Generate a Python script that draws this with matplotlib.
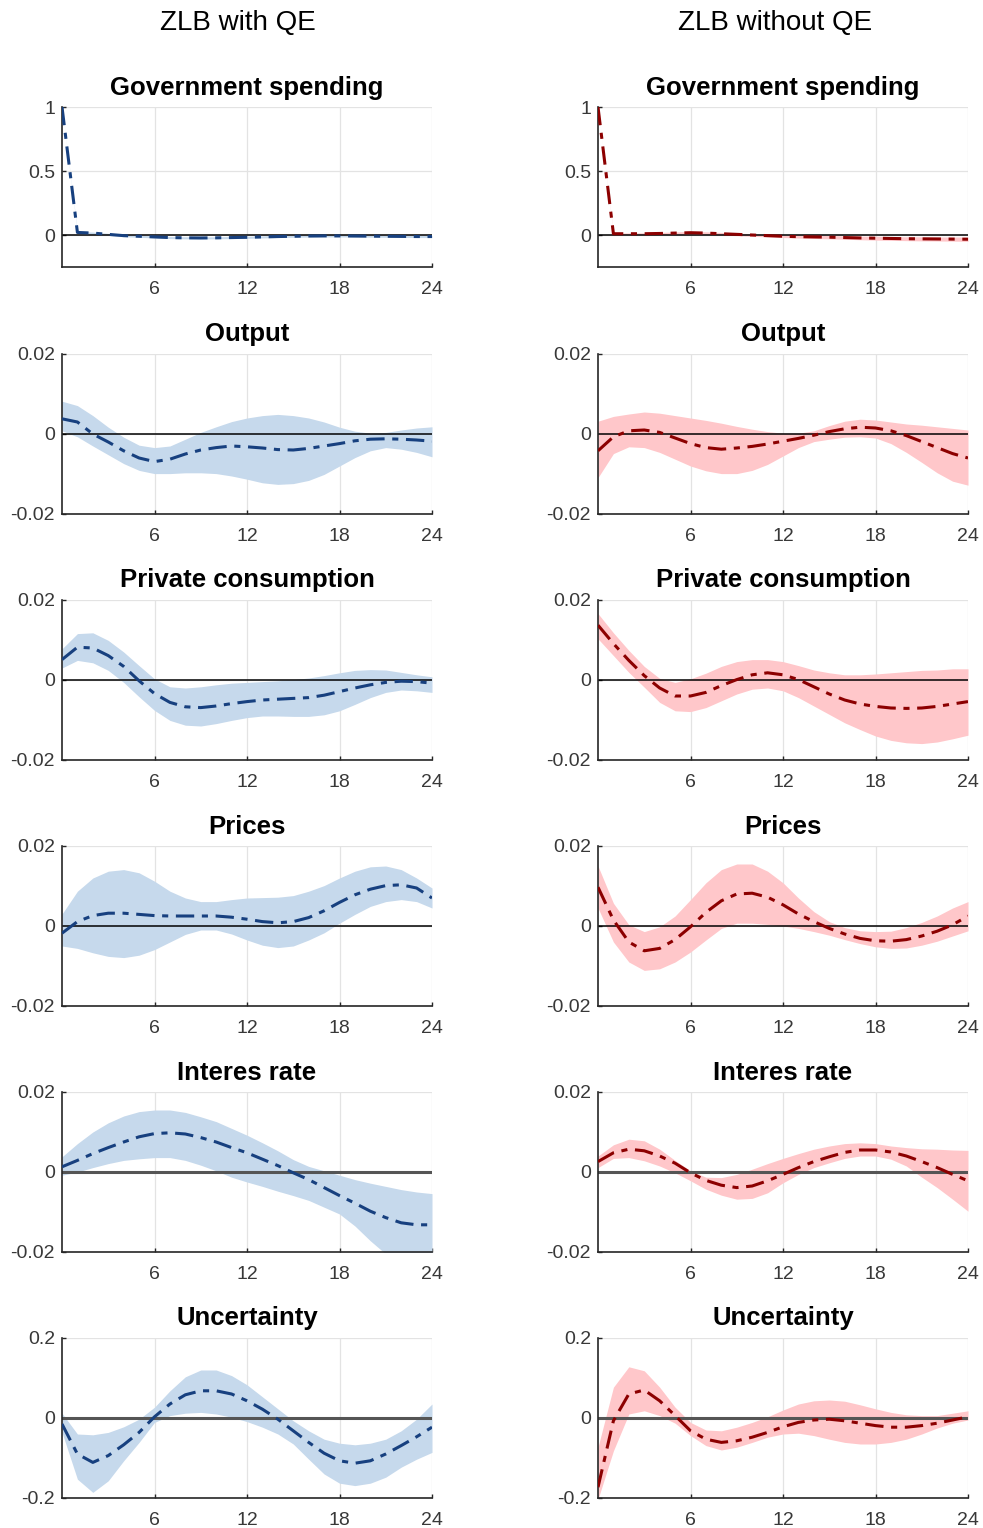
import matplotlib.pyplot as plt
import numpy as np

plt.rcParams['font.family'] = ['Liberation Sans', 'DejaVu Sans']

horizon = list(range(25))
xticks = [6, 12, 18, 24]

# ---- ZLB with QE (left column) ----
gov_qe_mid = [1.0, 0.02, 0.015, 0.005, -0.005, -0.01, -0.015, -0.02, -0.022, -0.023, -0.022, -0.02, -0.018,
              -0.015, -0.012, -0.01, -0.008, -0.007, -0.007, -0.008, -0.009, -0.01, -0.011, -0.012, -0.012]
gov_qe_lo = [1.0, 0.012, 0.007, -0.003, -0.013, -0.018, -0.023, -0.028, -0.03, -0.031, -0.03, -0.028, -0.026,
             -0.023, -0.02, -0.018, -0.016, -0.015, -0.015, -0.016, -0.017, -0.018, -0.019, -0.02, -0.02]
gov_qe_hi = [1.0, 0.028, 0.023, 0.013, 0.003, -0.002, -0.007, -0.012, -0.014, -0.015, -0.014, -0.012, -0.01,
             -0.007, -0.004, -0.002, 0.0, 0.001, 0.001, 0.0, -0.001, -0.002, -0.003, -0.004, -0.004]

out_qe_mid = [0.0038, 0.003, 0.0, -0.002, -0.0042, -0.006, -0.0069, -0.0063, -0.005, -0.004, -0.0034, -0.003, -0.0032,
              -0.0035, -0.0039, -0.004, -0.0036, -0.003, -0.0024, -0.0017, -0.0013, -0.0012, -0.0013, -0.0015, -0.0018]
out_qe_hi = [0.0082, 0.0071, 0.0046, 0.0017, -0.0008, -0.0028, -0.0034, -0.003, -0.0013, 0.0004, 0.0018, 0.0031, 0.004,
             0.0046, 0.0049, 0.0046, 0.004, 0.003, 0.0017, 0.0007, 0.0002, 0.0004, 0.001, 0.0015, 0.0018]
out_qe_lo = [0.0008, -0.0007, -0.003, -0.0052, -0.0074, -0.0091, -0.0099, -0.0099, -0.0097, -0.0097, -0.0099, -0.0105,
             -0.0113, -0.0122, -0.0126, -0.0124, -0.0116, -0.0101, -0.008, -0.0059, -0.0042, -0.0034, -0.0038, -0.0046, -0.0057]

con_qe_mid = [0.0051, 0.0082, 0.008, 0.0061, 0.0034, -0.0002, -0.0034, -0.0056, -0.0067, -0.0069, -0.0065, -0.0059, -0.0054,
              -0.005, -0.0048, -0.0046, -0.0044, -0.0038, -0.0029, -0.002, -0.0012, -0.0006, -0.0003, -0.0004, -0.0008]
con_qe_hi = [0.0078, 0.0116, 0.0118, 0.0099, 0.007, 0.0036, 0.0003, -0.0017, -0.002, -0.0017, -0.0012, -0.0008, -0.0006,
             -0.0004, -0.0002, 0.0001, 0.0005, 0.0011, 0.0018, 0.0024, 0.0026, 0.0025, 0.0019, 0.0013, 0.0008]
con_qe_lo = [0.003, 0.0049, 0.0043, 0.0024, -0.0006, -0.0042, -0.0076, -0.0101, -0.0113, -0.0115, -0.0109, -0.0101, -0.0094,
             -0.009, -0.009, -0.0091, -0.0091, -0.0087, -0.0077, -0.0061, -0.0044, -0.0031, -0.0025, -0.0027, -0.0031]

pri_qe_mid = [-0.0018, 0.0011, 0.0026, 0.0032, 0.0032, 0.0029, 0.0026, 0.0025, 0.0025, 0.0025, 0.0025, 0.0022, 0.0017,
              0.0011, 0.0008, 0.0011, 0.0021, 0.0038, 0.0059, 0.0078, 0.0092, 0.0101, 0.0103, 0.0095, 0.007]
pri_qe_hi = [0.003, 0.0087, 0.012, 0.0137, 0.0141, 0.0133, 0.0112, 0.0087, 0.007, 0.0061, 0.0061, 0.0066, 0.007,
             0.0071, 0.0072, 0.0076, 0.0087, 0.0101, 0.012, 0.0137, 0.0148, 0.015, 0.0141, 0.012, 0.0095]
pri_qe_lo = [-0.005, -0.0056, -0.0067, -0.0076, -0.0079, -0.0073, -0.0059, -0.004, -0.0021, -0.001, -0.001, -0.002, -0.0035,
             -0.0048, -0.0054, -0.005, -0.0035, -0.0017, 0.0007, 0.0029, 0.0049, 0.0061, 0.0066, 0.0061, 0.0045]

int_qe_mid = [0.0013, 0.0029, 0.0046, 0.0061, 0.0075, 0.0088, 0.0096, 0.0098, 0.0095, 0.0086, 0.0075, 0.0061, 0.0048,
              0.0032, 0.0016, -0.0002, -0.0019, -0.0039, -0.0059, -0.0078, -0.0098, -0.0114, -0.0127, -0.0132, -0.0132]
int_qe_hi = [0.0038, 0.0071, 0.01, 0.0123, 0.014, 0.0151, 0.0155, 0.0155, 0.0149, 0.0138, 0.0126, 0.0109, 0.0092,
             0.0073, 0.0053, 0.0031, 0.0014, 0.0003, -0.0008, -0.0019, -0.0028, -0.0036, -0.0044, -0.005, -0.0054]
int_qe_lo = [-0.0008, 0.0, 0.0011, 0.0021, 0.0029, 0.0033, 0.0036, 0.0036, 0.0029, 0.0017, 0.0003, -0.0013, -0.0025,
             -0.0036, -0.0048, -0.0059, -0.0071, -0.0088, -0.0105, -0.0135, -0.0172, -0.0205, -0.023, -0.025, -0.026]

unc_qe_mid = [-0.015, -0.09, -0.111, -0.094, -0.067, -0.036, 0.003, 0.035, 0.058, 0.068, 0.068, 0.06, 0.043,
              0.022, -0.003, -0.032, -0.061, -0.088, -0.107, -0.113, -0.107, -0.09, -0.069, -0.047, -0.023]
unc_qe_hi = [0.012, -0.04, -0.042, -0.036, -0.022, -0.003, 0.027, 0.068, 0.103, 0.12, 0.12, 0.106, 0.083,
             0.053, 0.023, -0.007, -0.032, -0.053, -0.063, -0.067, -0.063, -0.053, -0.032, -0.003, 0.035]
unc_qe_lo = [-0.036, -0.153, -0.186, -0.157, -0.107, -0.061, -0.011, 0.006, 0.012, 0.014, 0.01, 0.002, -0.009,
             -0.023, -0.04, -0.065, -0.103, -0.14, -0.163, -0.169, -0.163, -0.148, -0.123, -0.103, -0.086]

# ---- ZLB without QE (right column) ----
gov_nq_mid = [1.0, 0.01, 0.01, 0.01, 0.012, 0.015, 0.018, 0.015, 0.01, 0.005, 0.0, -0.005, -0.01,
              -0.013, -0.015, -0.017, -0.02, -0.023, -0.025, -0.027, -0.029, -0.03, -0.031, -0.032, -0.033]
gov_nq_lo = [1.0, 0.004, 0.004, 0.003, 0.004, 0.006, 0.008, 0.005, 0.0, -0.005, -0.01, -0.015, -0.02,
             -0.024, -0.027, -0.03, -0.033, -0.037, -0.04, -0.042, -0.044, -0.046, -0.047, -0.048, -0.05]
gov_nq_hi = [1.0, 0.016, 0.016, 0.017, 0.02, 0.024, 0.028, 0.025, 0.02, 0.015, 0.01, 0.005, 0.0,
             -0.002, -0.003, -0.004, -0.007, -0.009, -0.01, -0.012, -0.014, -0.014, -0.015, -0.016, -0.016]

out_nq_mid = [-0.0042, -0.0007, 0.0008, 0.001, 0.0004, -0.001, -0.0024, -0.0034, -0.0038, -0.0035, -0.0031, -0.0025, -0.0018,
              -0.0011, -0.0003, 0.0006, 0.0013, 0.0017, 0.0015, 0.0008, -0.0004, -0.0019, -0.0034, -0.0049, -0.006]
out_nq_hi = [0.0032, 0.0044, 0.005, 0.0055, 0.0052, 0.0046, 0.004, 0.0034, 0.0027, 0.0019, 0.0012, 0.0006, 0.0002,
             0.0002, 0.0008, 0.0021, 0.0032, 0.0037, 0.0035, 0.003, 0.0025, 0.0022, 0.0018, 0.0014, 0.001]
out_nq_lo = [-0.0109, -0.0049, -0.0032, -0.0034, -0.0046, -0.0063, -0.008, -0.0092, -0.0099, -0.0099, -0.0091, -0.0076,
             -0.0055, -0.0034, -0.0019, -0.0013, -0.0008, -0.0007, -0.001, -0.0024, -0.0046, -0.0071, -0.0097, -0.0118, -0.0128]

con_nq_mid = [0.0137, 0.0091, 0.0049, 0.0011, -0.002, -0.004, -0.004, -0.0031, -0.0014, 0.0001, 0.0013, 0.0018, 0.0013,
              0.0001, -0.0017, -0.0035, -0.005, -0.006, -0.0066, -0.007, -0.0071, -0.007, -0.0066, -0.006, -0.0054]
con_nq_hi = [0.0166, 0.0118, 0.0074, 0.0034, 0.0004, -0.0006, 0.0003, 0.0017, 0.0034, 0.0046, 0.0051, 0.0051, 0.0046,
             0.0036, 0.0025, 0.0018, 0.0013, 0.0013, 0.0015, 0.0018, 0.0021, 0.0024, 0.0025, 0.0028, 0.0028]
con_nq_lo = [0.0103, 0.0061, 0.0019, -0.0018, -0.0056, -0.0077, -0.0079, -0.0069, -0.0052, -0.0035, -0.0023, -0.002, -0.0027,
             -0.0044, -0.0065, -0.0086, -0.0107, -0.0124, -0.014, -0.0151, -0.0157, -0.0159, -0.0155, -0.0147, -0.0138]

pri_nq_mid = [0.0097, 0.0015, -0.004, -0.0062, -0.0056, -0.0034, -0.0002, 0.0034, 0.0063, 0.008, 0.0082, 0.0072, 0.0053,
              0.003, 0.0011, -0.0006, -0.002, -0.0031, -0.0037, -0.0038, -0.0034, -0.0025, -0.0013, 0.0003, 0.0025]
pri_nq_hi = [0.015, 0.0057, 0.0003, -0.0014, -0.0002, 0.0025, 0.0066, 0.0108, 0.0141, 0.0155, 0.0155, 0.0137, 0.0108,
             0.007, 0.0036, 0.0011, -0.0004, -0.0012, -0.0014, -0.0013, -0.0004, 0.0009, 0.0025, 0.0045, 0.0061]
pri_nq_lo = [0.0045, -0.004, -0.009, -0.0111, -0.0107, -0.009, -0.0065, -0.0035, -0.0006, 0.0007, 0.0007, 0.0004, 0.0,
             -0.0006, -0.0014, -0.0023, -0.0034, -0.0044, -0.0052, -0.0056, -0.0055, -0.0048, -0.0038, -0.0025, -0.0012]

int_nq_mid = [0.0026, 0.0048, 0.0057, 0.0053, 0.004, 0.0022, -0.0002, -0.0021, -0.0033, -0.0039, -0.0035, -0.0022, -0.0006,
              0.0011, 0.0026, 0.0038, 0.0049, 0.0055, 0.0055, 0.005, 0.004, 0.0026, 0.0011, -0.0006, -0.0022]
int_nq_hi = [0.004, 0.0068, 0.0082, 0.0078, 0.0057, 0.0029, 0.0003, -0.0013, -0.0014, -0.0006, 0.0007, 0.0021, 0.0034,
             0.0046, 0.0057, 0.0065, 0.0071, 0.0073, 0.0071, 0.0065, 0.0061, 0.0058, 0.0057, 0.0055, 0.0054]
int_nq_lo = [0.0011, 0.0034, 0.0036, 0.0028, 0.0015, -0.0002, -0.0022, -0.0043, -0.0058, -0.0068, -0.0066, -0.0052, -0.0027,
             -0.0006, 0.0011, 0.0023, 0.0034, 0.004, 0.004, 0.0032, 0.0015, -0.0013, -0.0039, -0.0068, -0.0098]

unc_nq_mid = [-0.173, -0.007, 0.06, 0.07, 0.043, 0.006, -0.032, -0.053, -0.061, -0.057, -0.048, -0.036, -0.022,
              -0.011, -0.005, -0.003, -0.007, -0.013, -0.019, -0.023, -0.023, -0.019, -0.013, -0.005, 0.003]
unc_nq_hi = [-0.073, 0.077, 0.128, 0.118, 0.077, 0.027, -0.011, -0.03, -0.032, -0.023, -0.011, 0.003, 0.02,
             0.035, 0.043, 0.045, 0.042, 0.033, 0.023, 0.014, 0.008, 0.006, 0.006, 0.012, 0.018]
unc_nq_lo = [-0.203, -0.082, 0.01, 0.018, 0.006, -0.013, -0.044, -0.069, -0.08, -0.073, -0.061, -0.048, -0.04,
             -0.038, -0.044, -0.053, -0.061, -0.065, -0.065, -0.061, -0.053, -0.04, -0.025, -0.013, -0.005]

titles = ['Government spending', 'Output', 'Private consumption', 'Prices', 'Interes rate', 'Uncertainty']
col_titles = ['ZLB with QE', 'ZLB without QE']

panels_qe = [(gov_qe_mid, gov_qe_lo, gov_qe_hi), (out_qe_mid, out_qe_lo, out_qe_hi),
             (con_qe_mid, con_qe_lo, con_qe_hi), (pri_qe_mid, pri_qe_lo, pri_qe_hi),
             (int_qe_mid, int_qe_lo, int_qe_hi), (unc_qe_mid, unc_qe_lo, unc_qe_hi)]
panels_nq = [(gov_nq_mid, gov_nq_lo, gov_nq_hi), (out_nq_mid, out_nq_lo, out_nq_hi),
             (con_nq_mid, con_nq_lo, con_nq_hi), (pri_nq_mid, pri_nq_lo, pri_nq_hi),
             (int_nq_mid, int_nq_lo, int_nq_hi), (unc_nq_mid, unc_nq_lo, unc_nq_hi)]

ylims = [(-0.25, 1), (-0.02, 0.02), (-0.02, 0.02), (-0.02, 0.02), (-0.02, 0.02), (-0.2, 0.2)]
yticks = [[0, 0.5, 1], [-0.02, 0, 0.02], [-0.02, 0, 0.02], [-0.02, 0, 0.02], [-0.02, 0, 0.02], [-0.2, 0, 0.2]]
ylabels = [['0', '0.5', '1'], ['-0.02', '0', '0.02'], ['-0.02', '0', '0.02'], ['-0.02', '0', '0.02'],
           ['-0.02', '0', '0.02'], ['-0.2', '0', '0.2']]

colors = [('#17407f', '#c6d9ec'), ('#8c0000', '#ffc7ca')]

fig = plt.figure(figsize=(9.83, 15.28), dpi=100)

lefts = [62 / 983, 598 / 983]
width = 370 / 983
tops = [107, 354, 600, 846, 1092, 1338]
height = 160 / 1528
header_x = [238 / 983, 775 / 983]

for c, panels in enumerate([panels_qe, panels_nq]):
    line_col, band_col = colors[c]
    for r, (mid, lo, hi) in enumerate(panels):
        bottom = 1 - (tops[r] + 160) / 1528
        ax = fig.add_axes([lefts[c], bottom, width, height])
        ax.fill_between(horizon, lo, hi, color=band_col, linewidth=0, zorder=1)
        if r < 4:
            ax.axhline(0, color='black', linewidth=1.1, zorder=2)
        else:
            ax.axhline(0, color='#555555', linewidth=2.2, zorder=2)
        ax.plot(horizon, mid, color=line_col, linewidth=2.2, dashes=(6, 2.5, 2, 2.5), zorder=3)
        ax.set_xlim(0, 24)
        ax.set_ylim(*ylims[r])
        ax.set_xticks(xticks)
        ax.set_yticks(yticks[r])
        ax.set_yticklabels(ylabels[r])
        ax.grid(True, color='#e3e3e3', linewidth=0.9, zorder=0)
        ax.set_axisbelow(True)
        for s in ['top', 'right']:
            ax.spines[s].set_visible(False)
        for s in ['left', 'bottom']:
            ax.spines[s].set_color('#262626')
            ax.spines[s].set_linewidth(1.2)
        ax.tick_params(direction='in', length=3, width=1, colors='#262626',
                       labelsize=14, labelcolor='#383838')
        ax.tick_params(axis='x', pad=10)
        ax.tick_params(axis='y', pad=5)
        ax.set_title(titles[r], fontsize=18.5, fontweight='bold', pad=9)
    fig.text(header_x[c], 1 - 23 / 1528, col_titles[c],
             ha='center', va='center', fontsize=20)

fig.savefig('out.png', dpi=100)
